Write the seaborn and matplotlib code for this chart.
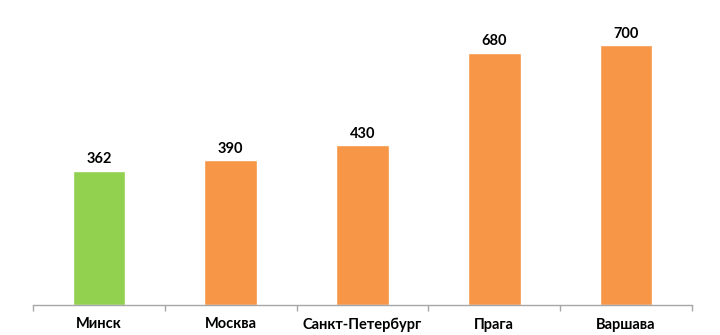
import matplotlib
matplotlib.use("Agg")
import matplotlib.pyplot as plt
import seaborn as sns
import pandas as pd

cities = ["Минск", "Москва", "Санкт-Петербург", "Прага", "Варшава"]
values = [362, 390, 430, 680, 700]
colors = ["#92D050", "#F79646", "#F79646", "#F79646", "#F79646"]

sns.set_theme(style="white")
plt.rcParams['font.family'] = ['Lato', 'DejaVu Sans']

df = pd.DataFrame({"city": cities, "value": values})

fig = plt.figure(figsize=(7.2, 3.35), dpi=100)
ax = fig.add_axes([33/720, 30/335, (692-33)/720, 297/335])
sns.barplot(data=df, x="city", y="value", hue="city", palette=colors,
            width=0.4, legend=False, ax=ax, saturation=1)
ax.set_xlim(-0.5, len(cities) - 0.5)
ax.set_ylim(0, 800)
ax.set_xlabel("")
ax.set_ylabel("")
ax.set_yticks([])
for s in ["top", "right", "left"]:
    ax.spines[s].set_visible(False)
ax.spines["bottom"].set_color("#A6A6A6")
ax.spines["bottom"].set_linewidth(1)
ax.set_xticks([i - 0.5 for i in range(len(cities) + 1)], minor=True)
ax.set_xticks(range(len(cities)))
ax.set_xticklabels(cities, fontsize=10.5, fontweight="bold", color="black")
ax.tick_params(axis="x", which="major", length=0, pad=9)
ax.tick_params(axis="x", which="minor", length=4, color="#A6A6A6", width=1, bottom=True)
for i, v in enumerate(values):
    ax.text(i, v + 12, str(v), ha="center", va="bottom", fontsize=10.5,
            fontweight="bold", color="black")

fig.savefig("out.png", dpi=100)
